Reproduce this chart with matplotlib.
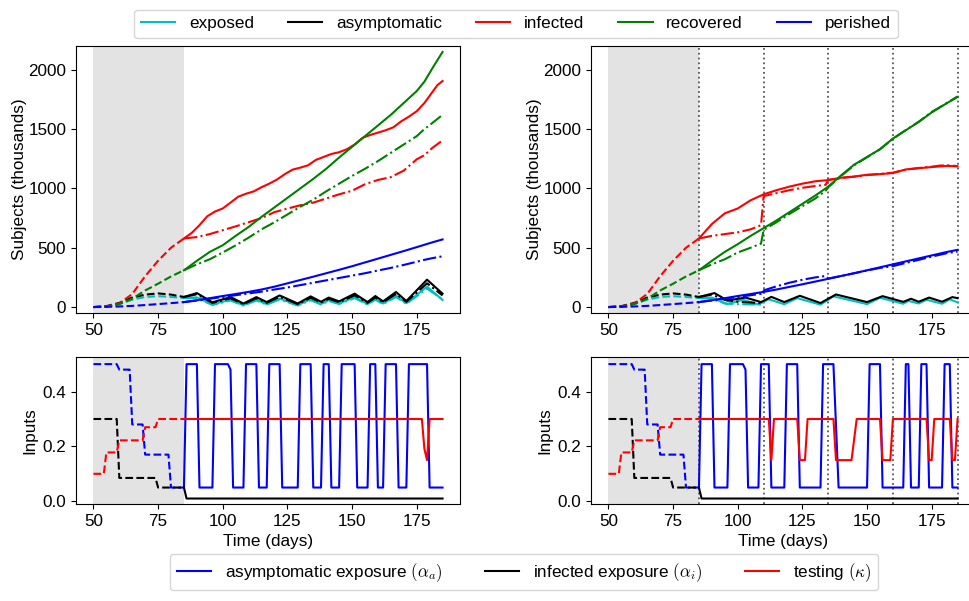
import matplotlib
matplotlib.use("Agg")
import matplotlib.pyplot as plt
from matplotlib.lines import Line2D

plt.rcParams["font.family"] = ["Liberation Sans", "DejaVu Sans"]
plt.rcParams["mathtext.fontset"] = "cm"
plt.rcParams["font.size"] = 12.3

# ---- historical data (days 50-85), shared by both columns ----
t_hist = [50, 55, 60, 65, 70, 75, 80, 85]
E_hist = [0, 5, 25, 62, 85, 92, 85, 76]
A_hist = [0, 8, 35, 80, 105, 115, 105, 85]
I_hist = [0, 5, 30, 110, 260, 390, 500, 578]
R_hist = [0, 5, 25, 70, 140, 197, 258, 310]
D_hist = [0, 2, 5, 10, 17, 25, 33, 42]

# ---- left column: open loop plan (solid = actual, dash-dot = prediction) ----
t_grid = [85, 90, 95, 100, 105, 110, 115, 120, 125, 130, 135, 140, 145, 150,
          155, 160, 165, 170, 175, 178, 181, 185]
t_I_left = [85, 88, 91, 94, 97, 100, 103, 106, 109, 112, 115, 118, 121, 124,
            127, 130, 133, 136, 139, 142, 145, 148, 151, 154, 157, 160, 163,
            166, 169, 172, 175, 178, 181, 183, 185]
I_left = [578, 625, 690, 765, 805, 831, 880, 930, 955, 975, 1010, 1040, 1075,
          1120, 1158, 1175, 1195, 1240, 1265, 1290, 1305, 1330, 1370, 1425,
          1450, 1470, 1490, 1515, 1565, 1605, 1650, 1720, 1810, 1870, 1905]
I_left_pred = [578, 590, 615, 648, 680, 715, 750, 800, 830, 858, 880, 915, 950,
               980, 1035, 1071, 1095, 1150, 1245, 1280, 1340, 1405]
R_left = [310, 390, 465, 521, 600, 675, 760, 840, 920, 1000, 1080, 1165, 1260,
          1350, 1440, 1530, 1620, 1720, 1820, 1900, 2010, 2150]
R_left_pred = [310, 360, 403, 460, 520, 585, 655, 715, 780, 845, 905, 975, 1040,
               1105, 1165, 1230, 1300, 1370, 1440, 1500, 1550, 1620]
D_left = [42, 58, 75, 93, 110, 128, 148, 172, 200, 228, 256, 285, 314, 344,
          376, 408, 440, 472, 505, 525, 545, 570]
D_left_pred = [42, 55, 70, 85, 100, 115, 130, 148, 165, 185, 205, 225, 245,
               265, 285, 308, 330, 355, 382, 398, 412, 428]

t_EA_left = [85, 90, 96, 103, 108, 113, 117, 122, 129, 134, 138, 141, 145, 151,
             156, 159, 162, 167, 171, 179, 185]
A_left = [85, 118, 40, 84, 30, 84, 42, 98, 30, 90, 45, 80, 48, 113, 42, 93,
          48, 127, 51, 231, 113]
A_left_pred = [85, 108, 35, 74, 25, 74, 36, 86, 25, 79, 38, 70, 41, 99, 36, 81,
               41, 111, 44, 200, 98]
E_left = [76, 82, 22, 62, 16, 62, 25, 72, 16, 66, 26, 58, 30, 84, 25, 70, 30,
          96, 32, 172, 60]
E_left_pred = [76, 75, 18, 55, 13, 55, 21, 64, 13, 58, 22, 51, 26, 75, 21, 62,
               26, 85, 28, 155, 65]

# ---- right column: re-planned every 25 days ----
replan_days = [85, 110, 135, 160, 185]
I_right = [578, 700, 790, 831, 900, 950, 985, 1015, 1040, 1060, 1070, 1090,
           1100, 1115, 1120, 1130, 1160, 1170, 1180, 1185, 1190, 1185]
R_right = [310, 390, 465, 530, 600, 665, 730, 800, 870, 940, 1015, 1110, 1200,
           1265, 1330, 1420, 1490, 1560, 1640, 1680, 1720, 1770]
D_right = [42, 58, 75, 93, 110, 128, 148, 170, 192, 215, 238, 262, 285, 310,
           335, 360, 385, 410, 435, 450, 465, 482]
t_pred_right = [85, 90, 95, 100, 105, 109, 110, 115, 120, 125, 130, 134, 135,
                140, 145, 150, 155, 160, 165, 170, 175, 178, 181, 185]
I_right_pred = [578, 600, 615, 630, 655, 690, 935, 960, 985, 1005, 1020, 1030,
                1072, 1088, 1098, 1112, 1122, 1132, 1158, 1172, 1183, 1192,
                1195, 1188]
R_right_pred = [310, 360, 403, 460, 500, 535, 650, 715, 785, 850, 915, 980,
                1010, 1105, 1195, 1262, 1330, 1418, 1492, 1562, 1645, 1682,
                1722, 1775]
D_right_pred = [42, 55, 70, 85, 100, 112, 140, 175, 205, 230, 250, 262, 240,
                262, 285, 308, 330, 345, 372, 398, 425, 440, 455, 468]

t_A_right = [85, 91, 96, 103, 109, 113, 118, 124, 132, 138, 150, 156, 164, 167,
             170, 174, 179, 183, 185]
A_right = [85, 118, 55, 80, 42, 86, 42, 95, 34, 106, 42, 92, 44, 70, 45, 80,
           45, 84, 75]
t_E_right = [85, 90, 96, 102, 108, 112, 118, 123, 132, 137, 150, 155, 164, 166,
             170, 173, 179, 182, 185]
E_right = [76, 80, 25, 62, 22, 65, 24, 75, 20, 90, 25, 78, 28, 52, 30, 62, 28,
           65, 40]
t_EA_right_pred = [85, 90, 95, 100, 105, 110]
A_right_pred = [85, 105, 60, 45, 38, 34]
E_right_pred = [76, 70, 30, 25, 22, 22]

# ---- inputs ----
t_aa_hist = [50, 59, 60, 64, 65, 69, 70, 79, 80, 85]
aa_hist = [0.5, 0.5, 0.48, 0.48, 0.28, 0.28, 0.17, 0.17, 0.05, 0.05]
t_ai_hist = [50, 59, 60, 74, 75, 85]
ai_hist = [0.3, 0.3, 0.085, 0.085, 0.05, 0.05]
t_k_hist = [50, 54, 55, 59, 60, 69, 70, 74, 75, 85]
k_hist = [0.1, 0.1, 0.178, 0.178, 0.222, 0.222, 0.27, 0.27, 0.3, 0.3]

t_ai = [85, 86, 185]
ai = [0.05, 0.01, 0.01]

t_aa_left = [85, 86, 90, 91, 96, 97, 102, 103, 104, 108, 109, 113, 114, 117,
             118, 122, 123, 129, 130, 134, 135, 138, 139, 141, 142, 145, 146,
             151, 152, 156, 157, 159, 160, 162, 163, 167, 168, 171, 172, 179,
             180, 185]
aa_left = [0.05, 0.5, 0.5, 0.05, 0.05, 0.5, 0.5, 0.48, 0.05, 0.05, 0.5, 0.5,
           0.05, 0.05, 0.5, 0.5, 0.05, 0.05, 0.5, 0.5, 0.05, 0.05, 0.5, 0.5,
           0.05, 0.05, 0.5, 0.5, 0.05, 0.05, 0.5, 0.5, 0.05, 0.05, 0.5, 0.5,
           0.05, 0.05, 0.5, 0.5, 0.05, 0.05]
t_k_left = [85, 177, 178, 179, 180, 185]
k_left = [0.3, 0.3, 0.19, 0.15, 0.3, 0.3]

t_aa_right = [85, 86, 90, 91, 96, 97, 102, 103, 104, 108, 109, 112, 113, 118,
              119, 123, 124, 132, 133, 137, 139, 150, 151, 155, 156, 164, 165,
              166, 167, 170, 171, 173, 174, 179, 180, 182, 183, 185]
aa_right = [0.05, 0.5, 0.5, 0.05, 0.05, 0.5, 0.5, 0.48, 0.05, 0.05, 0.5, 0.5,
            0.05, 0.05, 0.5, 0.5, 0.05, 0.05, 0.5, 0.5, 0.05, 0.05, 0.5, 0.5,
            0.05, 0.05, 0.5, 0.5, 0.05, 0.05, 0.5, 0.5, 0.05, 0.05, 0.5, 0.5,
            0.05, 0.05]
t_k_right = [85, 112, 113, 114, 123, 124, 126, 127, 137, 138, 144, 146, 155,
             156, 159, 160, 173, 174, 175, 176, 182, 183, 184, 185]
k_right = [0.3, 0.3, 0.15, 0.3, 0.3, 0.15, 0.15, 0.3, 0.3, 0.15, 0.15, 0.3,
           0.3, 0.15, 0.15, 0.3, 0.3, 0.15, 0.15, 0.3, 0.3, 0.15, 0.15, 0.3]

cE, cA, cI, cR, cD = "c", "k", "r", "g", "b"
lw = 1.5
shade = "#e3e3e3"

W, H = 969, 601
fig = plt.figure(figsize=(W / 100, H / 100), dpi=100)


def box(left, top, bottom, width=384):
    return [left / W, (H - bottom) / H, width / W, (bottom - top) / H]


ax_tl = fig.add_axes(box(76, 46, 313))
ax_tr = fig.add_axes(box(591, 46, 313))
ax_bl = fig.add_axes(box(76, 357, 504))
ax_br = fig.add_axes(box(591, 357, 504))

for ax in (ax_tl, ax_tr, ax_bl, ax_br):
    ax.axvspan(50, 85, color=shade, lw=0, zorder=0)
    ax.set_xlim(43.25, 191.75)
    ax.set_xticks([50, 75, 100, 125, 150, 175])

for ax in (ax_tr, ax_br):
    for d in replan_days:
        ax.axvline(d, color="0.35", ls=":", lw=1.3, zorder=1)

# top panels
for ax in (ax_tl, ax_tr):
    ax.plot(t_hist, E_hist, color=cE, ls="--", lw=lw)
    ax.plot(t_hist, A_hist, color=cA, ls="--", lw=lw)
    ax.plot(t_hist, I_hist, color=cI, ls="--", lw=lw)
    ax.plot(t_hist, R_hist, color=cR, ls="--", lw=lw)
    ax.plot(t_hist, D_hist, color=cD, ls="--", lw=lw)
    ax.set_ylim(-50, 2200)
    ax.set_yticks([0, 500, 1000, 1500, 2000])
    ax.set_ylabel("Subjects (thousands)", labelpad=1)

ax_tl.plot(t_EA_left, E_left, color=cE, lw=lw)
ax_tl.plot(t_EA_left, E_left_pred, color=cE, ls="-.", lw=lw)
ax_tl.plot(t_EA_left, A_left, color=cA, lw=lw)
ax_tl.plot(t_EA_left, A_left_pred, color=cA, ls="-.", lw=lw)
ax_tl.plot(t_I_left, I_left, color=cI, lw=lw)
ax_tl.plot(t_grid, I_left_pred, color=cI, ls="-.", lw=lw)
ax_tl.plot(t_grid, R_left, color=cR, lw=lw)
ax_tl.plot(t_grid, R_left_pred, color=cR, ls="-.", lw=lw)
ax_tl.plot(t_grid, D_left, color=cD, lw=lw)
ax_tl.plot(t_grid, D_left_pred, color=cD, ls="-.", lw=lw)

ax_tr.plot(t_E_right, E_right, color=cE, lw=lw)
ax_tr.plot(t_EA_right_pred, E_right_pred, color=cE, ls="-.", lw=lw)
ax_tr.plot(t_A_right, A_right, color=cA, lw=lw)
ax_tr.plot(t_EA_right_pred, A_right_pred, color=cA, ls="-.", lw=lw)
ax_tr.plot(t_grid, I_right, color=cI, lw=lw)
ax_tr.plot(t_pred_right, I_right_pred, color=cI, ls="-.", lw=lw)
ax_tr.plot(t_grid, R_right, color=cR, lw=lw)
ax_tr.plot(t_pred_right, R_right_pred, color=cR, ls="-.", lw=lw)
ax_tr.plot(t_grid, D_right, color=cD, lw=lw)
ax_tr.plot(t_pred_right, D_right_pred, color=cD, ls="-.", lw=lw)

# bottom panels
for ax, t_aa, aa, t_k, k in ((ax_bl, t_aa_left, aa_left, t_k_left, k_left),
                             (ax_br, t_aa_right, aa_right, t_k_right, k_right)):
    ax.plot(t_aa_hist, aa_hist, color="b", ls="--", lw=lw)
    ax.plot(t_ai_hist, ai_hist, color="k", ls="--", lw=lw)
    ax.plot(t_k_hist, k_hist, color="r", ls="--", lw=lw)
    ax.plot(t_aa, aa, color="b", lw=lw)
    ax.plot(t_ai, ai, color="k", lw=lw)
    ax.plot(t_k, k, color="r", lw=lw)
    ax.set_ylim(-0.01, 0.526)
    ax.set_yticks([0.0, 0.2, 0.4])
    ax.set_ylabel("Inputs")
    ax.set_xlabel("Time (days)")

state_handles = [Line2D([], [], color=c, lw=lw) for c in (cE, cA, cI, cR, cD)]
fig.legend(state_handles, ["exposed", "asymptomatic", "infected", "recovered", "perished"],
           loc="upper center", bbox_to_anchor=(516 / W, 1 - 1 / H), ncol=5)

input_handles = [Line2D([], [], color=c, lw=lw) for c in ("b", "k", "r")]
fig.legend(input_handles, [r"asymptomatic exposure $(\alpha_a)$",
                           r"infected exposure $(\alpha_i)$",
                           r"testing $(\kappa)$"],
           loc="lower center", bbox_to_anchor=(524 / W, 2 / H), ncol=3,
           columnspacing=2.5)

fig.savefig("out.png", dpi=100)
